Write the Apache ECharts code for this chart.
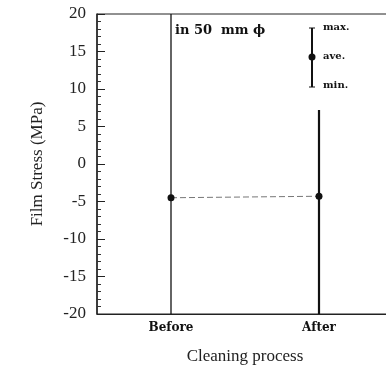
<!DOCTYPE html>
<html>
<head>
<meta charset="utf-8">
<script src="https://cdn.jsdelivr.net/npm/echarts@6/dist/echarts.min.js"></script>
<style>
html,body{margin:0;padding:0;background:#fff;}
#chart{width:386px;height:373px;}
</style>
</head>
<body>
<div id="chart"></div>
<script>
const categories = ['Before', 'After'];
const maxVals = [20, 7.2];
const aveVals = [-4.5, -4.3];
const minVals = [-20, -20];
const yTicks = [-20, -15, -10, -5, 0, 5, 10, 15, 20];

const barWidths = [1.3, 2.2];
const serif = '"Liberation Serif", "Times New Roman", serif';
const bserif = '"DejaVu Serif", "Liberation Serif", serif';

const chart = echarts.init(document.getElementById('chart'), null, {renderer: 'canvas'});

const option = {
  animation: false,
  backgroundColor: '#fff',
  grid: {left: 97, top: 14, width: 296, height: 300, outerBoundsMode: 'none', containLabel: false, show: true, borderColor: '#222', borderWidth: 1, backgroundColor: 'transparent'},
  xAxis: {
    type: 'category',
    data: categories,
    boundaryGap: true,
    axisLine: {show: true, onZero: false, lineStyle: {color: '#222', width: 1}},
    axisTick: {show: false},
    axisLabel: {margin: 8, fontFamily: bserif, fontWeight: 'bold', fontSize: 12, color: '#111'},
    name: 'Cleaning process',
    nameLocation: 'middle',
    nameGap: 34,
    nameTextStyle: {fontFamily: serif, fontSize: 17, color: '#222'},
    splitLine: {show: false}
  },
  yAxis: {
    type: 'value',
    min: yTicks[0],
    max: yTicks[yTicks.length - 1],
    interval: 5,
    axisLine: {show: true, lineStyle: {color: '#222', width: 1.5}},
    axisTick: {show: true, inside: true, length: 8, lineStyle: {color: '#222'}},
    minorTick: {show: true, splitNumber: 5, length: 4, lineStyle: {color: '#333'}},
    axisLabel: {margin: 11, fontFamily: serif, fontSize: 17, color: '#222'},
    splitLine: {show: false},
    name: 'Film Stress (MPa)',
    nameLocation: 'middle',
    nameGap: 51,
    nameTextStyle: {fontFamily: serif, fontSize: 17, color: '#222'}
  },
  series: [
    {
      type: 'custom',
      data: categories.map((c, i) => [i, maxVals[i], minVals[i]]),
      renderItem: function (params, api) {
        const i = api.value(0);
        const top = api.coord([i, api.value(1)]);
        const bot = api.coord([i, api.value(2)]);
        return {
          type: 'line',
          shape: {x1: top[0], y1: top[1], x2: bot[0], y2: bot[1]},
          style: {stroke: '#111', lineWidth: barWidths[params.dataIndex]}
        };
      },
      z: 3
    },
    {
      type: 'line',
      data: aveVals,
      symbol: 'circle',
      symbolSize: 7,
      itemStyle: {color: '#111'},
      lineStyle: {color: '#777', width: 1, type: [6, 3]},
      z: 4
    }
  ],
  graphic: [
    {type: 'text', left: 175, top: 24, style: {text: 'in 50  mm ϕ', font: 'bold 13px ' + bserif, fill: '#111'}},
    {type: 'line', shape: {x1: 312, y1: 28, x2: 312, y2: 87}, style: {stroke: '#111', lineWidth: 2}},
    {type: 'line', shape: {x1: 309, y1: 28, x2: 315, y2: 28}, style: {stroke: '#111', lineWidth: 1}},
    {type: 'line', shape: {x1: 309, y1: 87, x2: 315, y2: 87}, style: {stroke: '#111', lineWidth: 1}},
    {type: 'circle', shape: {cx: 312, cy: 57, r: 3.5}, style: {fill: '#111'}},
    {type: 'text', left: 323, top: 22, style: {text: 'max.', font: 'bold 10px ' + bserif, fill: '#111'}},
    {type: 'text', left: 323, top: 51, style: {text: 'ave.', font: 'bold 10px ' + bserif, fill: '#111'}},
    {type: 'text', left: 323, top: 80, style: {text: 'min.', font: 'bold 10px ' + bserif, fill: '#111'}}
  ]
};
chart.setOption(option);
</script>
</body>
</html>
